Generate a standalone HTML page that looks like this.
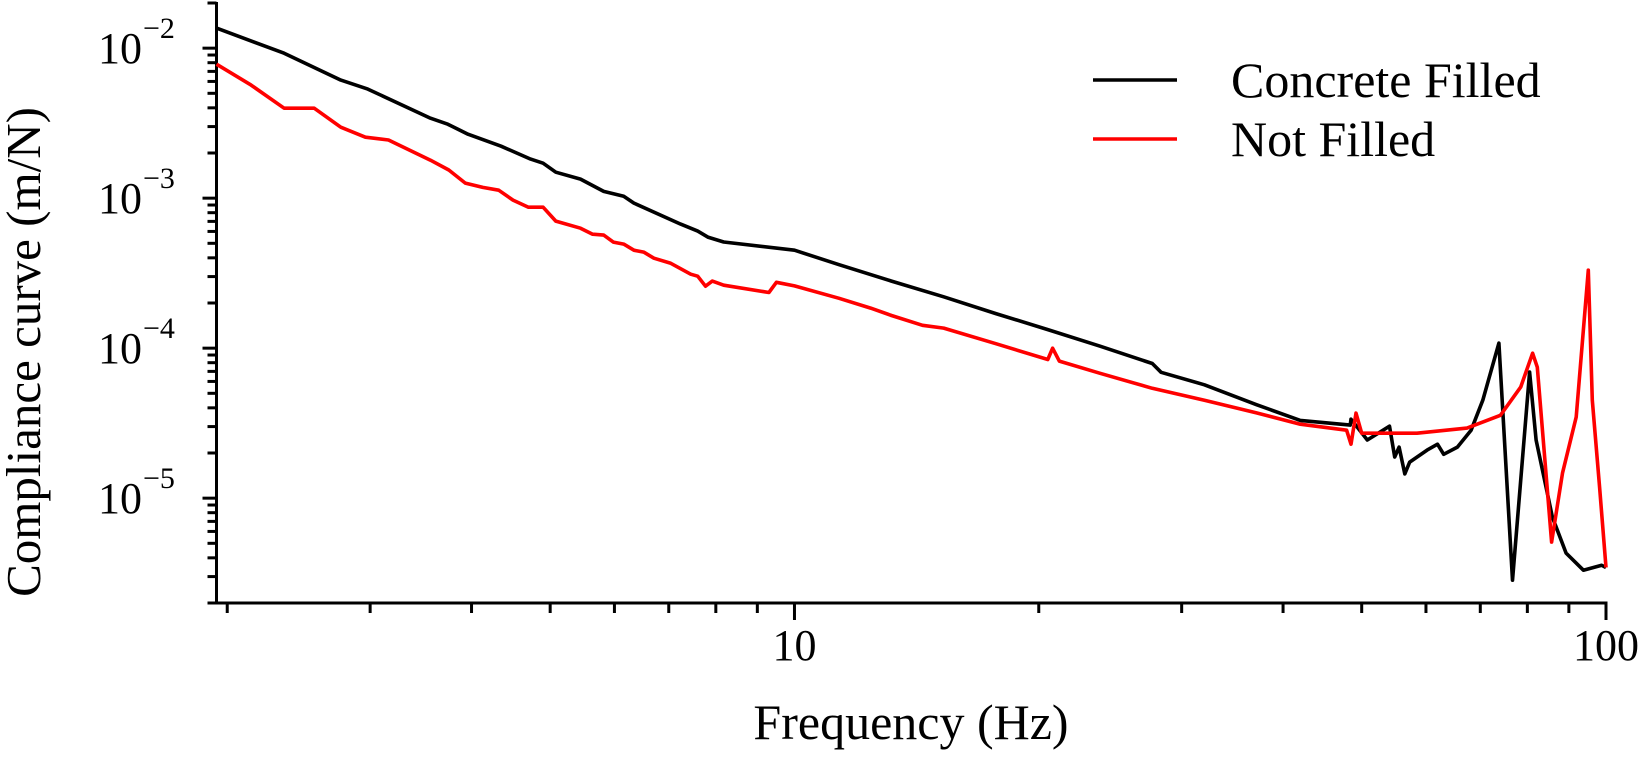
<!DOCTYPE html>
<html><head><meta charset="utf-8"><style>
html,body{margin:0;padding:0;background:#fff;}
svg{display:block;font-family:"Liberation Serif",serif;}
</style></head><body>
<svg id="chart" width="1642" height="758" viewBox="0 0 1642 758" xmlns="http://www.w3.org/2000/svg">
<g id="axes"></g>
<g id="series"></g>
<text x="911" y="739" font-size="50" text-anchor="middle">Frequency (Hz)</text>
<text transform="translate(40,352) rotate(-90)" font-size="49" text-anchor="middle">Compliance curve (m/N)</text>
<g>
<line x1="1093" y1="80" x2="1177" y2="80" stroke="#000" stroke-width="3.5"/>
<text x="1231" y="97" font-size="50">Concrete Filled</text>
<line x1="1093" y1="139" x2="1177" y2="139" stroke="#ff0000" stroke-width="3.5"/>
<text x="1231" y="156" font-size="50">Not Filled</text>
</g>
</svg>
<script>
const concreteFreq = [1.94,2.35,2.76,2.98,3.56,3.74,3.96,4.35,4.73,4.90,5.08,5.45,5.82,6.16,6.34,7.24,7.60,7.82,8.18,10,11.35,13.17,15.27,17.71,20.52,23.8,27.6,28.3,32.0,37.1,42.0,48.4,48.5,50.8,54.1,54.9,55.6,56.5,57.3,60.2,62.0,63.1,65.6,68.2,70.5,73.8,76.7,80.5,82.0,85.9,89.3,93.8,98.8,100];
const concreteVals = [1.36e-2,9.26e-3,6.12e-3,5.33e-3,3.41e-3,3.11e-3,2.67e-3,2.22e-3,1.82e-3,1.71e-3,1.49e-3,1.34e-3,1.11e-3,1.03e-3,9.27e-4,6.71e-4,6.03e-4,5.50e-4,5.1e-4,4.5e-4,3.6e-4,2.8e-4,2.2e-4,1.7e-4,1.33e-4,1.03e-4,7.9e-5,6.9e-5,5.7e-5,4.2e-5,3.3e-5,3.07e-5,3.36e-5,2.44e-5,3.02e-5,1.88e-5,2.19e-5,1.45e-5,1.74e-5,2.09e-5,2.29e-5,1.96e-5,2.19e-5,2.84e-5,4.50e-5,1.08e-4,2.84e-6,6.92e-5,2.44e-5,7.47e-6,4.30e-6,3.31e-6,3.57e-6,3.45e-6];
const notFilledFreq = [1.94,2.14,2.35,2.56,2.76,2.96,3.16,3.56,3.75,3.93,4.13,4.32,4.50,4.70,4.90,5.08,5.45,5.64,5.82,5.98,6.16,6.34,6.52,6.71,7.03,7.45,7.60,7.77,7.92,8.18,9.3,9.5,10,11.35,12.41,13.17,14.38,15.27,17.71,20.52,20.8,21.2,23.8,27.6,32.0,37.1,42.0,47.9,48.5,49.2,50.0,58.5,67.4,74.1,78.5,81.2,82.3,85.7,88.4,91.9,95.1,96.2,98.2,100];
const notFilledVals = [7.82e-3,5.67e-3,3.98e-3,3.98e-3,2.97e-3,2.55e-3,2.44e-3,1.79e-3,1.54e-3,1.26e-3,1.18e-3,1.13e-3,9.70e-4,8.71e-4,8.71e-4,7.03e-4,6.31e-4,5.75e-4,5.67e-4,5.09e-4,4.94e-4,4.50e-4,4.37e-4,3.98e-4,3.69e-4,3.11e-4,3.02e-4,2.59e-4,2.80e-4,2.63e-4,2.35e-4,2.75e-4,2.6e-4,2.15e-4,1.85e-4,1.65e-4,1.42e-4,1.36e-4,1.07e-4,8.4e-5,1.0e-4,8.2e-5,6.8e-5,5.4e-5,4.5e-5,3.7e-5,3.11e-5,2.84e-5,2.29e-5,3.69e-5,2.71e-5,2.71e-5,2.93e-5,3.57e-5,5.50e-5,9.26e-5,7.47e-5,5.09e-6,1.47e-5,3.47e-5,3.31e-4,4.50e-5,1.18e-5,3.45e-6];
const xMajorTicks = [10,100];
const xTickLabels = ["10","100"];
const yMajorExps = [-2,-3,-4,-5];

const NS = "http://www.w3.org/2000/svg";
const xMin = 1.94, xMax = 100, yMin = 2e-6, yMax = 2e-2;
const L = 216.5, R = 1606, T = 3, B = 603;
function X(f){ return L + (R - L) * (Math.log10(f) - Math.log10(xMin)) / (Math.log10(xMax) - Math.log10(xMin)); }
function Y(v){ return T + (B - T) * (Math.log10(yMax) - Math.log10(v)) / (Math.log10(yMax) - Math.log10(yMin)); }
function mk(tag, attrs, parent){ const e = document.createElementNS(NS, tag); for (const k in attrs) e.setAttribute(k, attrs[k]); parent.appendChild(e); return e; }

const axes = document.getElementById('axes');
const yAxis = mk('line', {x1:L, y1:T-1, x2:L, y2:B+1.5, stroke:'#000', 'stroke-width':3}, axes);


const xAxis = mk('line', {x1:L-1.5, y1:B, x2:R+1.5, y2:B, stroke:'#000', 'stroke-width':3}, axes);



for (let e = -6; e <= -2; e++) {
  for (let m = 1; m <= 9; m++) {
    const v = m * Math.pow(10, e);
    if (v < yMin * 0.999 || v > yMax * 1.001) continue;
    const y = Y(v);
    const len = m === 1 ? 14 : 9;
    const t = mk('line', {x1:L-len, y1:y, x2:L, y2:y, stroke:'#000', 'stroke-width':3}, axes);
    
    
  }
}
yMajorExps.forEach(e => {
  const y = Y(Math.pow(10, e));
  const tx = mk('text', {x:142, y:y+15, 'font-size':44, 'text-anchor':'end'}, axes);
  
  
  tx.textContent = '10';
  const sup = mk('text', {x:143, y:y-10, 'font-size':30}, axes);
  
  
  sup.textContent = '\u2212' + Math.abs(e);
});

for (let e = 0; e <= 2; e++) {
  for (let m = 1; m <= 9; m++) {
    const f = m * Math.pow(10, e);
    if (f < xMin * 0.999 || f > xMax * 1.001) continue;
    const x = X(f);
    const len = m === 1 ? 17 : 10;
    const t = mk('line', {x1:x, y1:B, x2:x, y2:B+len, stroke:'#000', 'stroke-width':3}, axes);
    
    
  }
}
xMajorTicks.forEach((f, i) => {
  const tx = mk('text', {x:X(f), y:660, 'font-size':44, 'text-anchor':'middle'}, axes);
  
  
  tx.textContent = xTickLabels[i];
});

const series = document.getElementById('series');
function drawLine(fs, vs, color, name){
  const d = fs.map((f, i) => (i ? 'L' : 'M') + X(f).toFixed(1) + ' ' + Y(vs[i]).toFixed(1)).join(' ');
  const p = mk('path', {d:d, fill:'none', stroke:color, 'stroke-width':3.6, 'stroke-linejoin':'round'}, series);
  
  
}
drawLine(concreteFreq, concreteVals, '#000', 'concrete-filled-line');
drawLine(notFilledFreq, notFilledVals, '#ff0000', 'not-filled-line');
</script>
</body></html>
